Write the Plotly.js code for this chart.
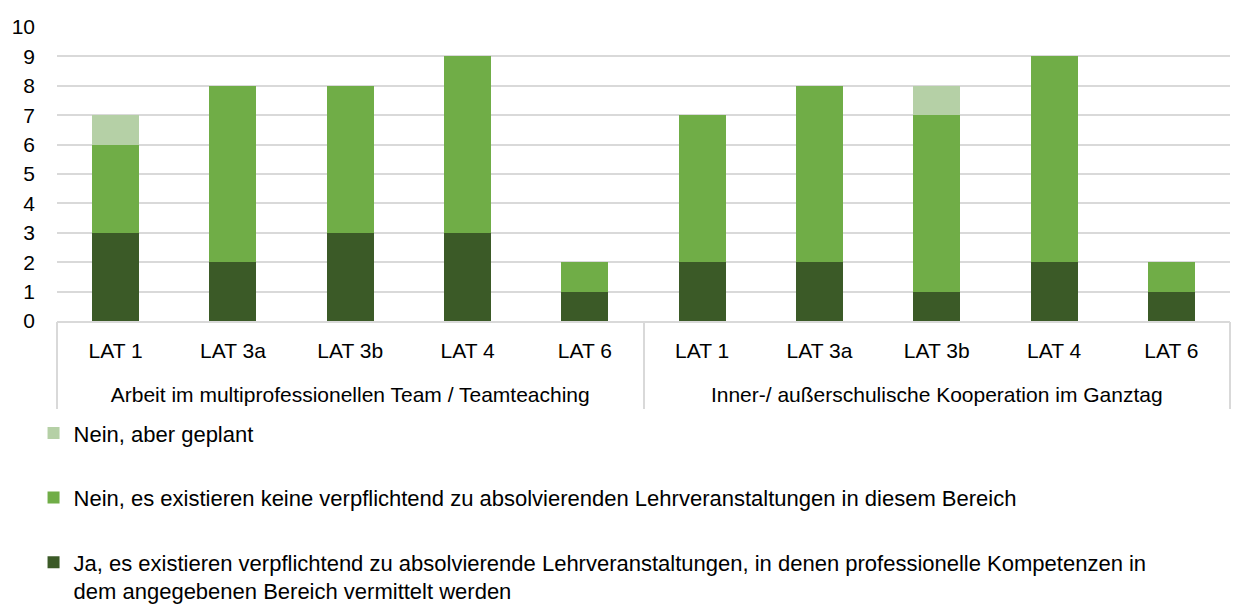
<!DOCTYPE html>
<html><head><meta charset="utf-8">
<script src="https://cdn.plot.ly/plotly-3.0.1.min.js"></script>
<style>html,body{margin:0;padding:0;background:#fff}#chart{width:1234px;height:605px}</style>
</head><body><div id="chart"></div>
<script>
const groupNames = ["Arbeit im multiprofessionellen Team / Teamteaching","Inner-/ außerschulische Kooperation im Ganztag"];
const categories = ["LAT 1","LAT 3a","LAT 3b","LAT 4","LAT 6","LAT 1","LAT 3a","LAT 3b","LAT 4","LAT 6"];
const jaValues = [3,2,3,3,1,2,2,1,2,1];
const neinValues = [3,6,5,6,1,5,6,6,7,1];
const geplantValues = [1,0,0,0,0,0,0,1,0,0];
const seriesNames = [
 "Ja, es existieren verpflichtend zu absolvierende Lehrveranstaltungen, in denen professionelle Kompetenzen in<br>dem angegebenen Bereich vermittelt werden",
 "Nein, es existieren keine verpflichtend zu absolvierenden Lehrveranstaltungen in diesem Bereich",
 "Nein, aber geplant"
];
const colors = ["#3B5A27","#70AD47","#B5D0A6"];
const vals = [jaValues, neinValues, geplantValues];
const idx = categories.map((_,i)=>i);
const traces = vals.map((v,i)=>({
  type:'bar', x:idx, y:v, name:seriesNames[i],
  marker:{color:colors[i]}, legendgroup:'g'+i, legendrank:vals.length-i, hoverinfo:'y'
}));
// invisible carrier trace for the group axis (labels + dividers)
traces.push({type:'bar', x:groupNames, y:groupNames.map(()=>null), xaxis:'x2', yaxis:'y',
  showlegend:false, hoverinfo:'skip', marker:{color:'rgba(0,0,0,0)'}});
const layout = {
  width:1234, height:605, barmode:'stack', bargap:0.6,
  margin:{l:57,r:4,t:27,b:284, autoexpand:false},
  font:{family:'Liberation Sans, Arial, sans-serif', size:21, color:'#000'},
  paper_bgcolor:'#fff', plot_bgcolor:'#fff',
  xaxis:{type:'linear', range:[-0.5, categories.length-0.5], tickmode:'array', tickvals:idx, ticktext:categories,
    showgrid:false, zeroline:false, showline:true, linecolor:'#d9d9d9', linewidth:2,
    ticks:'', ticklabelstandoff:10, tickfont:{size:21,color:'#000'}, fixedrange:true},
  xaxis2:{type:'category', overlaying:'x', anchor:'y', side:'bottom', categoryorder:'array', categoryarray:groupNames,
    range:[-0.5, groupNames.length-0.5], tickson:'boundaries', ticks:'outside', ticklen:87, tickwidth:2, tickcolor:'#d9d9d9',
    showgrid:false, zeroline:false, showline:false, ticklabelstandoff:59, tickfont:{size:21,color:'#000'}, fixedrange:true},
  yaxis:{range:[0,10], dtick:1, showgrid:true, gridcolor:'#d9d9d9', gridwidth:2,
    zeroline:false, showline:false, tickfont:{size:21,color:'#000'}, ticklabelstandoff:21, fixedrange:true},
  showlegend:true,
  legend:{orientation:'v', x:-0.020, xanchor:'left', y:-0.310, yanchor:'top',
    traceorder:'grouped', tracegroupgap:33, valign:'top', font:{size:22,color:'#000'}, bgcolor:'rgba(0,0,0,0)'}
};
Plotly.newPlot('chart', traces, layout, {displayModeBar:false, staticPlot:true});
</script></body></html>
